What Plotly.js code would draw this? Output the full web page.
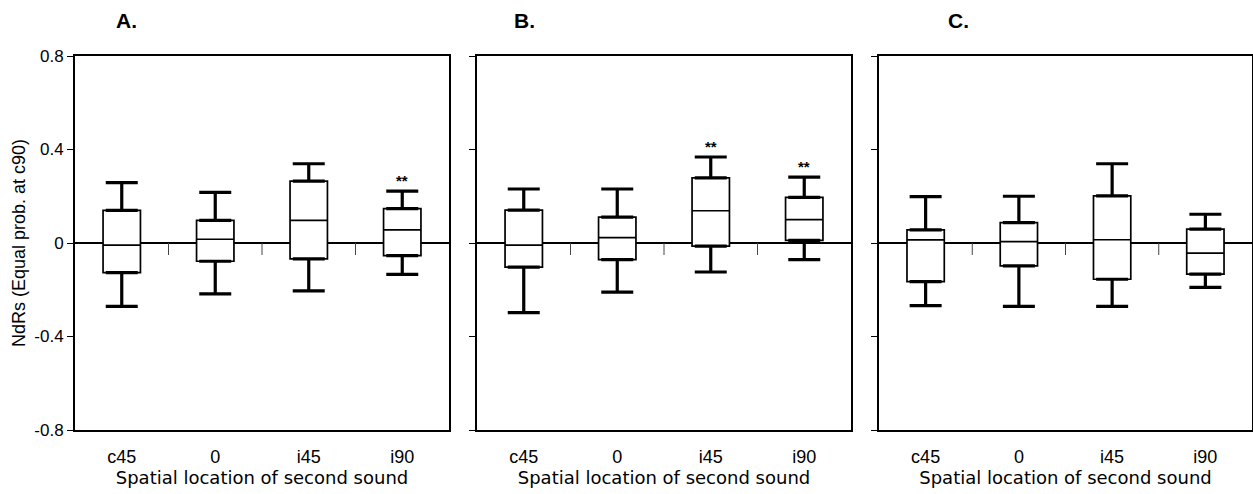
<!DOCTYPE html>
<html>
<head>
<meta charset="utf-8">
<script src="https://cdn.plot.ly/plotly-3.0.1.min.js"></script>
<style>html,body{margin:0;padding:0;background:#fff;}#chart{width:1253px;height:494px;}</style>
</head>
<body>
<div id="chart"></div>
<script>
// ---- Data ----
const categories = ['c45', '0', 'i45', 'i90'];
const panelLabels = ['A.', 'B.', 'C.'];

const upperA = [0.258, 0.217, 0.339, 0.222];
const q3A    = [0.140, 0.097, 0.265, 0.147];
const medA   = [-0.009, 0.016, 0.097, 0.056];
const q1A    = [-0.127, -0.078, -0.068, -0.054];
const lowerA = [-0.271, -0.218, -0.205, -0.134];
const sigA   = ['', '', '', '**'];

const upperB = [0.231, 0.231, 0.368, 0.282];
const q3B    = [0.141, 0.111, 0.279, 0.195];
const medB   = [-0.009, 0.023, 0.138, 0.100];
const q1B    = [-0.103, -0.071, -0.013, 0.011];
const lowerB = [-0.298, -0.210, -0.124, -0.071];
const sigB   = ['', '', '**', '**'];

const upperC = [0.198, 0.200, 0.339, 0.123];
const q3C    = [0.056, 0.087, 0.202, 0.059];
const medC   = [0.013, 0.006, 0.014, -0.043];
const q1C    = [-0.165, -0.098, -0.155, -0.133];
const lowerC = [-0.268, -0.271, -0.271, -0.190];
const sigC   = ['', '', '', ''];

const yTickVals = [-0.8, -0.4, 0, 0.4, 0.8];
const yTickText = ['-0.8', '-0.4', '0', '0.4', '0.8'];
const xTitle = 'Spatial location of second sound';
const yTitle = 'NdRs (Equal prob. at c90)';

// ---- Build ----
const panels = [
  {upper: upperA, q3: q3A, med: medA, q1: q1A, lower: lowerA, sig: sigA},
  {upper: upperB, q3: q3B, med: medB, q1: q1B, lower: lowerB, sig: sigB},
  {upper: upperC, q3: q3C, med: medC, q1: q1C, lower: lowerC, sig: sigC}
];

const W = 1253, H = 494;
const xDomains = [[75 / W, 449 / W], [477 / W, 851 / W], [879 / W, 1252 / W]];
const yDomain = [(H - 430) / H, (H - 56) / H];
const labelX = [126 / W, 524 / W, 958 / W];
const ARIAL = 'Liberation Sans, Arial, sans-serif';

const traces = [];
const annotations = [];
const shapes = [];
const layout = {
  width: W, height: H,
  margin: {l: 0, r: 0, t: 0, b: 0},
  paper_bgcolor: '#ffffff',
  plot_bgcolor: '#ffffff',
  showlegend: false,
  font: {family: ARIAL, color: '#000'}
};

panels.forEach((p, i) => {
  const sfx = i === 0 ? '' : String(i + 1);
  const xa = 'x' + sfx, ya = 'y' + sfx;

  // whiskers (thick) as error bars from box edges
  traces.push({
    type: 'scatter', mode: 'markers', x: categories, y: p.q3,
    xaxis: xa, yaxis: ya, hoverinfo: 'skip',
    marker: {size: 1, opacity: 0},
    error_y: {type: 'data', symmetric: false,
      array: p.upper.map((u, k) => u - p.q3[k]),
      arrayminus: p.q3.map(() => 0),
      color: '#000', thickness: 3.2, width: 16}
  });
  traces.push({
    type: 'scatter', mode: 'markers', x: categories, y: p.q1,
    xaxis: xa, yaxis: ya, hoverinfo: 'skip',
    marker: {size: 1, opacity: 0},
    error_y: {type: 'data', symmetric: false,
      array: p.q1.map(() => 0),
      arrayminus: p.q1.map((q, k) => q - p.lower[k]),
      color: '#000', thickness: 3.2, width: 16}
  });
  // boxes (thin)
  traces.push({
    type: 'box', x: categories, q1: p.q1, median: p.med, q3: p.q3,
    lowerfence: p.q1, upperfence: p.q3,
    xaxis: xa, yaxis: ya, boxpoints: false, width: 0.4, whiskerwidth: 0,
    fillcolor: '#ffffff', line: {color: '#000', width: 1.7}, hoverinfo: 'skip'
  });

  layout['xaxis' + sfx] = {
    domain: xDomains[i], anchor: ya, type: 'category',
    range: [-0.5, 3.5], showgrid: false, zeroline: false,
    showline: true, mirror: true, linecolor: '#000', linewidth: 2,
    ticks: '', ticklabelstandoff: 9,
    tickfont: {family: ARIAL, size: 18, color: '#000'},
    title: {text: xTitle, standoff: 6,
      font: {family: 'DejaVu Sans, Verdana, sans-serif', size: 18, color: '#000'}}
  };
  layout['yaxis' + sfx] = {
    domain: yDomain, anchor: xa, range: [-0.8, 0.8],
    tickvals: yTickVals, ticktext: yTickText,
    showticklabels: i === 0,
    ticks: 'outside', ticklen: 6, tickwidth: 1, tickcolor: '#000',
    showgrid: false, zeroline: true, zerolinecolor: '#000', zerolinewidth: 1.5,
    showline: true, mirror: true, linecolor: '#000', linewidth: 2,
    tickfont: {family: ARIAL, size: 17, color: '#000'},
    title: i === 0 ? {text: yTitle, standoff: 4,
      font: {family: ARIAL, size: 18, color: '#000'}} : {text: ''}
  };

  // small tick marks on the zero line between categories
  for (let k = 0; k < categories.length - 1; k++) {
    shapes.push({type: 'line', xref: xa, yref: ya, x0: k + 0.5, x1: k + 0.5,
      ysizemode: 'pixel', yanchor: 0, y0: -12, y1: 0,
      line: {color: '#444', width: 1}});
  }

  // significance stars
  p.sig.forEach((s, k) => {
    if (s) annotations.push({xref: xa, yref: ya, x: categories[k], y: p.upper[k],
      text: '<b>' + s + '</b>', showarrow: false, yanchor: 'bottom', yshift: 0,
      font: {family: ARIAL, size: 15, color: '#000'}});
  });

  // panel letters
  annotations.push({xref: 'paper', yref: 'paper', x: labelX[i], y: 1 - 20 / H,
    text: '<b>' + panelLabels[i] + '</b>', showarrow: false,
    xanchor: 'center', yanchor: 'middle',
    font: {family: ARIAL, size: 21, color: '#000'}});
});

layout.annotations = annotations;
layout.shapes = shapes;

Plotly.newPlot('chart', traces, layout, {staticPlot: true, displayModeBar: false});
</script>
</body>
</html>
